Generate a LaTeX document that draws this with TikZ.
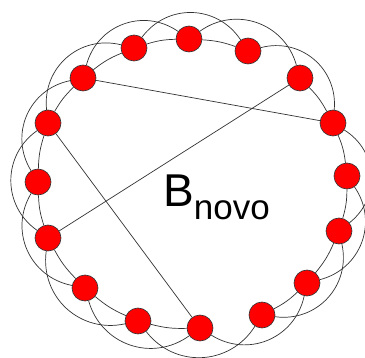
\documentclass[tikz,border=0pt]{standalone}
\usepackage{fontspec}
\setmainfont{Liberation Sans}
\usetikzlibrary{backgrounds}
\definecolor{sitered}{RGB}{255,0,0}
\definecolor{wire}{RGB}{50,50,50}
\tikzset{
  site/.style={
    circle, draw=wire, line width=0.6pt, fill=sitered,
    minimum size=26pt, inner sep=0pt
  },
  every edge/.style={draw=wire, line width=0.7pt},
  ring/.style={bend left=8},
  hop/.style={bend left=55, looseness=1.1},
  bname/.style={anchor=base west, inner sep=0pt, font=\fontsize{46}{46}\selectfont},
}
\begin{document}
\begin{tikzpicture}[x=1pt, y=1pt]
  \useasboundingbox (0,0) rectangle (365,357);

  % sites round the ring, clockwise from the top left
  \node[site] (v1)  at (134,309) {};
  \node[site] (v2)  at (189,318) {};
  \node[site] (v3)  at (248,306) {};
  \node[site] (v4)  at (300,279) {};
  \node[site] (v5)  at (333,234) {};
  \node[site] (v6)  at (347,181) {};
  \node[site] (v7)  at (339,126) {};
  \node[site] (v8)  at (307,74) {};
  \node[site] (v9)  at (262,42) {};
  \node[site] (v10) at (200,29) {};
  \node[site] (v11) at (138,36) {};
  \node[site] (v12) at (85,69) {};
  \node[site] (v13) at (48,119) {};
  \node[site] (v14) at (38,175) {};
  \node[site] (v15) at (48,234) {};
  \node[site] (v16) at (83,279) {};

  \node[bname] (title) at (163,150) {B\raisebox{-13pt}{\fontsize{35}{35}\selectfont novo}};

  \begin{pgfonlayer}{background}
    % nearest neighbours
    \path (v1) edge[ring] (v2)   (v2) edge[ring] (v3)
          (v4) edge[ring] (v5)   (v5) edge[ring] (v6)
          (v6) edge[ring] (v7)   (v7) edge[ring] (v8)
          (v8) edge[ring] (v9)   (v10) edge[ring] (v11)
          (v11) edge[ring] (v12) (v12) edge[ring] (v13)
          (v13) edge[ring] (v14) (v14) edge[ring] (v15)
          (v15) edge[ring] (v16) (v16) edge[ring] (v1);
    % second neighbours
    \path (v1) edge[hop] (v3)    (v2) edge[hop] (v4)
          (v3) edge[hop] (v5)    (v5) edge[hop] (v7)
          (v6) edge[hop] (v8)    (v7) edge[hop] (v9)
          (v8) edge[hop] (v10)   (v9) edge[hop] (v11)
          (v10) edge[hop] (v12)  (v11) edge[hop] (v13)
          (v12) edge[hop] (v14)  (v13) edge[hop] (v15)
          (v14) edge[hop] (v16)  (v15) edge[hop] (v1)
          (v16) edge[hop] (v2);
    % rewired shortcuts
    \path (v16) edge (v5)
          (v4) edge (v13)
          (v15) edge (v10);
  \end{pgfonlayer}
\end{tikzpicture}
\end{document}
